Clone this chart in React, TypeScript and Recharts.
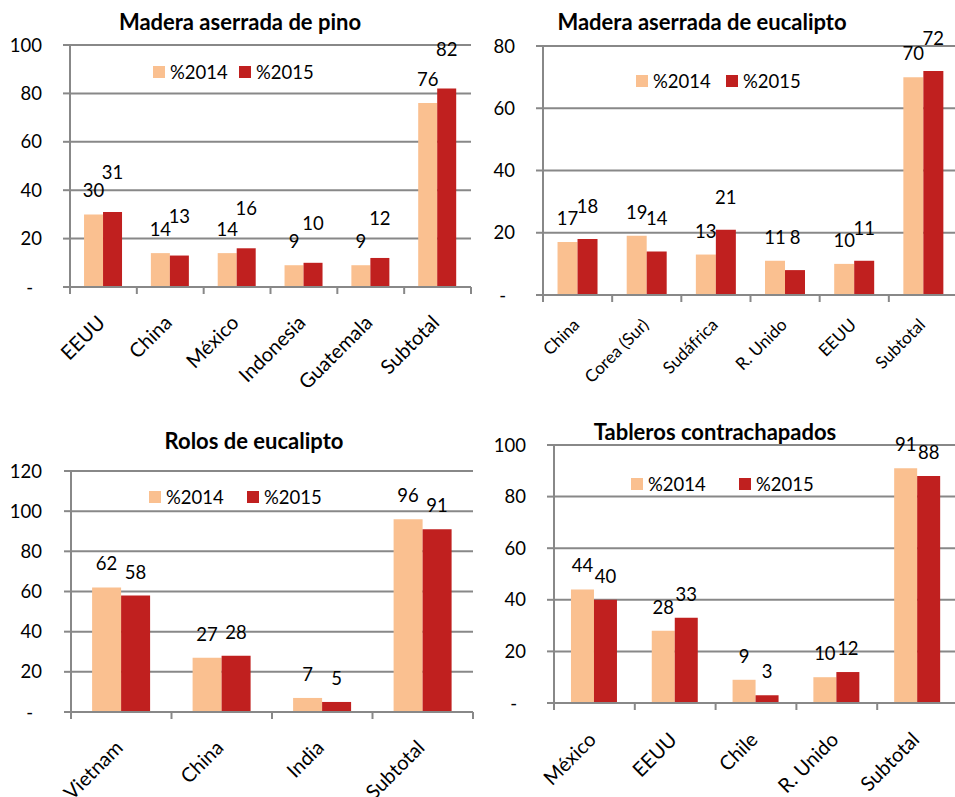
import React from 'react';
import { BarChart, Bar, XAxis, YAxis, CartesianGrid, Legend, LabelList } from 'recharts';

const FONT = 'Lato, "Open Sans", sans-serif';
const C14 = '#FAC090';
const C15 = '#C0201F';
const GRID = '#888888';

// Madera aserrada de pino
const pinoCategories = ['EEUU', 'China', 'México', 'Indonesia', 'Guatemala', 'Subtotal'];
const pino2014 = [30, 14, 14, 9, 9, 76];
const pino2015 = [31, 13, 16, 10, 12, 82];
const pinoTicks = [0, 20, 40, 60, 80, 100];

// Madera aserrada de eucalipto
const eucCategories = ['China', 'Corea (Sur)', 'Sudáfrica', 'R. Unido', 'EEUU', 'Subtotal'];
const euc2014 = [17, 19, 13, 11, 10, 70];
const euc2015 = [18, 14, 21, 8, 11, 72];
const eucTicks = [0, 20, 40, 60, 80];

// Rolos de eucalipto
const rolosCategories = ['Vietnam', 'China', 'India', 'Subtotal'];
const rolos2014 = [62, 27, 7, 96];
const rolos2015 = [58, 28, 5, 91];
const rolosTicks = [0, 20, 40, 60, 80, 100, 120];

// Tableros contrachapados
const tabCategories = ['México', 'EEUU', 'Chile', 'R. Unido', 'Subtotal'];
const tab2014 = [44, 28, 9, 10, 91];
const tab2015 = [40, 33, 3, 12, 88];
const tabTicks = [0, 20, 40, 60, 80, 100];

type PanelProps = {
  left: number;
  top: number;
  width: number;
  height: number;
  plotLeft: number;
  plotTop: number;
  plotBottom: number;
  rightMargin: number;
  yLabelRight: number;
  title: string;
  titleX: number;
  titleY: number;
  legendX: number;
  legendY: number;
  legendGap: number;
  categories: string[];
  s2014: number[];
  s2015: number[];
  ticks: number[];
  xFont: number;
  xDy: number;
  off14: number;
  off15: number;
};

function Panel(p: PanelProps) {
  const data = p.categories.map((c, i) => ({ name: c, v2014: p.s2014[i], v2015: p.s2015[i] }));
  const plotW = p.width - p.plotLeft - p.rightMargin;
  const bw = plotW / p.categories.length;
  const n = p.categories.length;

  const XTick = (props: any) => {
    const x = Number(props.x);
    const y = Number(props.y);
    const idx = props.index;
    const ax = x + 3;
    const ay = y + p.xDy;
    return (
      <g>
        <line x1={x - bw / 2} x2={x - bw / 2} y1={y} y2={y + 7} stroke={GRID} strokeWidth={2} />
        {idx === n - 1 && (
          <line x1={x + bw / 2} x2={x + bw / 2} y1={y} y2={y + 7} stroke={GRID} strokeWidth={2} />
        )}
        <text
          x={ax}
          y={ay}
          transform={`rotate(-45 ${ax} ${ay})`}
          textAnchor="end"
          fontFamily={FONT}
          fontSize={p.xFont}
          fill="#000"
        >
          {props.payload.value}
        </text>
      </g>
    );
  };

  const YTick = (props: any) => {
    const x = Number(props.x);
    const y = Number(props.y);
    const v = props.payload.value;
    return (
      <text
        x={v === 0 ? x - 9 : x}
        y={y}
        dy="0.36em"
        textAnchor="end"
        fontFamily={FONT}
        fontSize={18.5}
        fill="#000"
      >
        {v === 0 ? '-' : v}
      </text>
    );
  };

  const mkLabel = (off: number) => (lp: any) => {
    const x = Number(lp.x) + Number(lp.width) / 2;
    const y = Number(lp.y) - off;
    return (
      <text
        x={x}
        y={y}
        textAnchor="middle"
        dominantBaseline="central"
        fontFamily={FONT}
        fontSize={18.5}
        fill="#000"
      >
        {lp.value}
      </text>
    );
  };

  const legendContent = () => (
    <div style={{ position: 'relative', height: 20, width: 260, fontFamily: FONT, fontSize: 18.5, lineHeight: '20px', color: '#000' }}>
      <div style={{ position: 'absolute', left: 0, top: 4, width: 12, height: 12, background: C14 }} />
      <div style={{ position: 'absolute', left: 17, top: 0, whiteSpace: 'nowrap' }}>%2014</div>
      <div style={{ position: 'absolute', left: p.legendGap, top: 4, width: 12, height: 12, background: C15 }} />
      <div style={{ position: 'absolute', left: p.legendGap + 17, top: 0, whiteSpace: 'nowrap' }}>%2015</div>
    </div>
  );

  const yMax = p.ticks[p.ticks.length - 1];

  return (
    <div style={{ position: 'absolute', left: p.left, top: p.top, width: p.width, height: p.height }}>
      <BarChart
        width={p.width}
        height={p.height}
        data={data}
        margin={{ top: p.plotTop, right: p.rightMargin, bottom: 0, left: 0 }}
        barCategoryGap="21%"
        barGap={0}
      >
        <CartesianGrid vertical={false} stroke={GRID} strokeWidth={2} />
        <XAxis
          dataKey="name"
          interval={0}
          height={p.height - p.plotBottom}
          tickSize={0}
          tickMargin={0}
          tickLine={false}
          axisLine={{ stroke: GRID, strokeWidth: 2 }}
          tick={<XTick />}
        />
        <YAxis
          width={p.plotLeft}
          domain={[0, yMax]}
          ticks={p.ticks}
          interval={0}
          tickSize={7}
          tickMargin={p.plotLeft - 7 - p.yLabelRight}
          tickLine={{ stroke: GRID, strokeWidth: 2 }}
          axisLine={{ stroke: GRID, strokeWidth: 2 }}
          tick={<YTick />}
        />
        <Legend
          verticalAlign="middle"
          align="center"
          layout="horizontal"
          wrapperStyle={{ left: p.legendX, top: p.legendY, width: 260, height: 20 }}
          content={legendContent}
        />
        <Bar dataKey="v2014" name="%2014" fill={C14} isAnimationActive={false}>
          <LabelList dataKey="v2014" content={mkLabel(p.off14)} />
        </Bar>
        <Bar dataKey="v2015" name="%2015" fill={C15} isAnimationActive={false}>
          <LabelList dataKey="v2015" content={mkLabel(p.off15)} />
        </Bar>
      </BarChart>
      <div
        style={{
          position: 'absolute',
          left: p.titleX - 250,
          top: p.titleY - 13,
          width: 500,
          textAlign: 'center',
          fontFamily: FONT,
          fontWeight: 'bold',
          fontSize: 22,
          lineHeight: '26px',
          color: '#000',
          whiteSpace: 'nowrap',
        }}
      >
        {p.title}
      </div>
    </div>
  );
}

export default function App() {
  return (
    <div style={{ position: 'absolute', left: 0, top: 0, width: 955, height: 797, overflow: 'hidden', background: '#fff' }}>
      <Panel
        left={0} top={0} width={477} height={400}
        plotLeft={70} plotTop={45} plotBottom={287} rightMargin={6} yLabelRight={42}
        title="Madera aserrada de pino" titleX={240} titleY={22}
        legendX={153} legendY={62} legendGap={86}
        categories={pinoCategories} s2014={pino2014} s2015={pino2015} ticks={pinoTicks}
        xFont={20} xDy={37} off14={24} off15={40}
      />
      <Panel
        left={477} top={0} width={481} height={400}
        plotLeft={66} plotTop={46} plotBottom={295} rightMargin={0} yLabelRight={38}
        title="Madera aserrada de eucalipto" titleX={225} titleY={22}
        legendX={159} legendY={71} legendGap={90}
        categories={eucCategories} s2014={euc2014} s2015={euc2015} ticks={eucTicks}
        xFont={17} xDy={31} off14={24} off15={33}
      />
      <Panel
        left={0} top={400} width={477} height={397}
        plotLeft={71} plotTop={71} plotBottom={312} rightMargin={4} yLabelRight={42}
        title="Rolos de eucalipto" titleX={254} titleY={41}
        legendX={149} legendY={87} legendGap={98}
        categories={rolosCategories} s2014={rolos2014} s2015={rolos2015} ticks={rolosTicks}
        xFont={20} xDy={37} off14={24} off15={24}
      />
      <Panel
        left={477} top={400} width={481} height={397}
        plotLeft={77} plotTop={45} plotBottom={303} rightMargin={0} yLabelRight={49}
        title="Tableros contrachapados" titleX={238} titleY={32}
        legendX={154} legendY={74} legendGap={108}
        categories={tabCategories} s2014={tab2014} s2015={tab2015} ticks={tabTicks}
        xFont={20} xDy={38} off14={24} off15={24}
      />
    </div>
  );
}
